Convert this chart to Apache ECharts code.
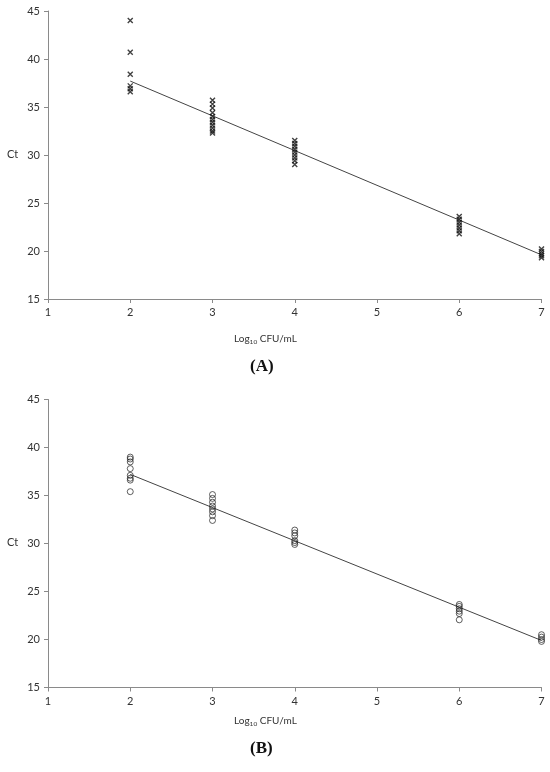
<!DOCTYPE html>
<html>
<head>
<meta charset="utf-8">
<script src="https://cdn.jsdelivr.net/npm/echarts@6/dist/echarts.min.js"></script>
<style>
  html, body { margin: 0; padding: 0; background: #fff; }
  #chart { width: 550px; height: 772px; }
</style>
</head>
<body>
<div id="chart"></div>
<script>
// 面板A：各浓度下的Ct值（叉号）
var xTicks = [1, 2, 3, 4, 5, 6, 7];
var yTicks = [15, 20, 25, 30, 35, 40, 45];
var ctA_2 = [44.0, 40.7, 38.4, 37.2, 36.9, 36.6];
var ctA_3 = [35.7, 35.3, 34.9, 34.4, 34.0, 33.7, 33.4, 33.1, 32.8, 32.5, 32.3];
var ctA_4 = [31.5, 31.2, 30.9, 30.6, 30.3, 30.0, 29.7, 29.4, 29.0];
var ctA_6 = [23.6, 23.3, 23.0, 22.7, 22.4, 22.1, 21.8];
var ctA_7 = [20.2, 19.95, 19.7, 19.5, 19.3];
var fitA = [[2, 37.7], [7, 19.6]];

// 面板B：各浓度下的Ct值（圆圈）
var ctB_2 = [39.0, 38.8, 38.5, 37.8, 37.1, 36.8, 36.6, 35.4];
var ctB_3 = [35.1, 34.7, 34.3, 33.9, 33.6, 33.3, 32.9, 32.4];
var ctB_4 = [31.4, 31.1, 30.8, 30.3, 30.1, 29.9];
var ctB_6 = [23.65, 23.45, 23.2, 22.95, 22.7, 22.05];
var ctB_7 = [20.5, 20.25, 20.0, 19.8];
var fitB = [[2, 37.2], [7, 19.9]];

function pairs(x, arr) {
  return arr.map(function (v) { return [x, v]; });
}
var pointsA = [].concat(pairs(2, ctA_2), pairs(3, ctA_3), pairs(4, ctA_4), pairs(6, ctA_6), pairs(7, ctA_7));
var pointsB = [].concat(pairs(2, ctB_2), pairs(3, ctB_3), pairs(4, ctB_4), pairs(6, ctB_6), pairs(7, ctB_7));

var axisColor = '#8a8a8a';
var labelFont = 'Lato, "Open Sans", sans-serif';

function makeX(idx) {
  return {
    gridIndex: idx,
    type: 'value',
    min: xTicks[0],
    max: xTicks[xTicks.length - 1],
    interval: 1,
    axisLine: { lineStyle: { color: axisColor, width: 1 } },
    axisTick: { show: true, length: 4, lineStyle: { color: axisColor } },
    axisLabel: { color: '#333', fontSize: 11, fontFamily: labelFont, margin: 8 },
    splitLine: { show: false }
  };
}
function makeY(idx) {
  return {
    gridIndex: idx,
    type: 'value',
    min: yTicks[0],
    max: yTicks[yTicks.length - 1],
    interval: 5,
    axisLine: { show: true, lineStyle: { color: axisColor, width: 1 } },
    axisTick: { show: true, length: 4, lineStyle: { color: axisColor } },
    axisLabel: { color: '#333', fontSize: 11, fontFamily: labelFont, margin: 8 },
    splitLine: { show: false }
  };
}

var crossSymbol = 'path://M0,0L10,10M10,0L0,10';
var nameRich = {
  n: { fontSize: 10, fontFamily: labelFont, fill: '#333' },
  s: { fontSize: 6.5, fontFamily: labelFont, fill: '#333', padding: [5, 0, 0, 0] }
};

var myChart = echarts.init(document.getElementById('chart'));
var option = {
  animation: false,
  grid: [
    { left: 48, right: 8.5, top: 11, height: 288 },
    { left: 48, right: 8.5, top: 399.5, height: 288 }
  ],
  xAxis: [makeX(0), makeX(1)],
  yAxis: [makeY(0), makeY(1)],
  graphic: [
    { type: 'text', left: 7, top: 149, style: { text: 'Ct', fontSize: 11, fontFamily: labelFont, fill: '#333' } },
    { type: 'text', left: 7, top: 537, style: { text: 'Ct', fontSize: 11, fontFamily: labelFont, fill: '#333' } },
    { type: 'text', left: 234, top: 334, style: { rich: nameRich, text: '{n|Log}{s|10}{n| CFU/mL}' } },
    { type: 'text', left: 234, top: 716, style: { rich: nameRich, text: '{n|Log}{s|10}{n| CFU/mL}' } },
    { type: 'text', left: 250, top: 358, style: { text: '(A)', fontSize: 17, fontWeight: 'bold', fontFamily: '"Liberation Serif", "DejaVu Serif", serif', fill: '#111' } },
    { type: 'text', left: 250, top: 740, style: { text: '(B)', fontSize: 17, fontWeight: 'bold', fontFamily: '"Liberation Serif", "DejaVu Serif", serif', fill: '#111' } }
  ],
  series: [
    {
      type: 'scatter', xAxisIndex: 0, yAxisIndex: 0,
      symbol: crossSymbol, symbolSize: 5,
      itemStyle: { color: 'none', borderColor: '#111', borderWidth: 1.4 },
      data: pointsA, z: 3
    },
    {
      type: 'line', xAxisIndex: 0, yAxisIndex: 0,
      showSymbol: false, silent: true,
      lineStyle: { color: '#444', width: 1 },
      data: fitA, z: 2
    },
    {
      type: 'scatter', xAxisIndex: 1, yAxisIndex: 1,
      symbol: 'circle', symbolSize: 6,
      itemStyle: { color: 'rgba(255,255,255,0)', borderColor: '#222', borderWidth: 0.9 },
      data: pointsB, z: 3
    },
    {
      type: 'line', xAxisIndex: 1, yAxisIndex: 1,
      showSymbol: false, silent: true,
      lineStyle: { color: '#444', width: 1 },
      data: fitB, z: 2
    }
  ]
};
myChart.setOption(option);
window.addEventListener('resize', function () {
  myChart.resize();
});
</script>
</body>
</html>
